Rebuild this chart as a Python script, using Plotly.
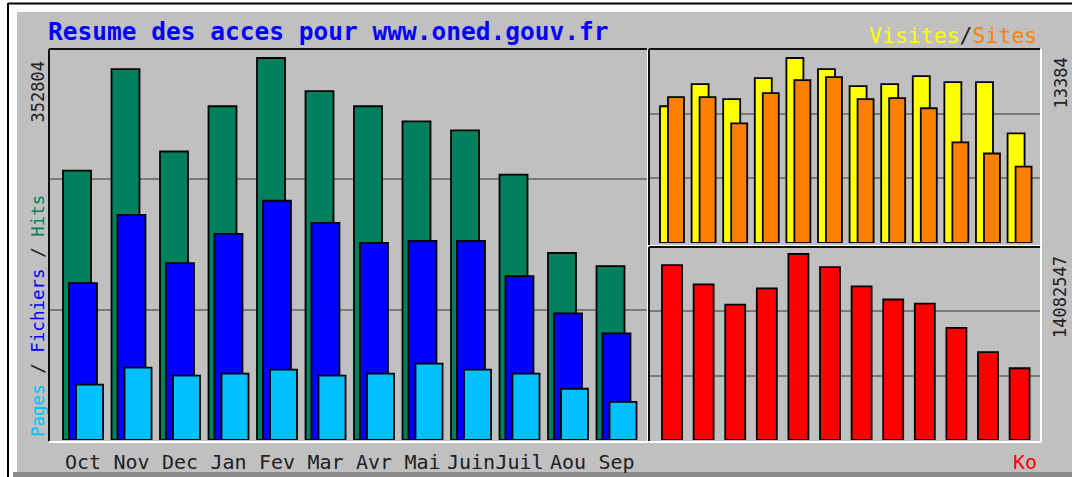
import plotly.graph_objects as go

W, H = 1072, 477

months = ["Oct", "Nov", "Dec", "Jan", "Fev", "Mar", "Avr", "Mai", "Juin", "Juil", "Aou", "Sep"]
hits = [248820, 342590, 266460, 308240, 352804, 322166, 308240, 294312, 285956, 245106, 172688, 160618]
files = [144835, 207968, 163404, 190328, 220966, 200541, 181972, 183829, 183829, 151334, 116982, 98414]
pages = [51064, 66847, 59420, 61276, 64990, 59420, 61276, 70561, 64990, 61276, 47350, 35280]
visits = [9893, 11493, 10402, 11929, 13384, 12584, 11347, 11493, 12075, 11638, 11638, 7929]
sites = [10547, 10547, 8656, 10838, 11784, 12002, 10402, 10474, 9747, 7274, 6474, 5528]
kbytes = [13240500, 11786400, 10255700, 11480300, 14082547, 13087500, 11633300, 10638400,
          10332200, 8495400, 6658500, 5434000]

title_text = "Resume des acces pour www.oned.gouv.fr"
hits_max_label = "352804"
visits_max_label = "13384"
kbytes_max_label = "14082547"

C_HITS, C_FILES, C_PAGES = "#00805C", "#0000FF", "#00C0FF"
C_VIS, C_SITES, C_KB = "#FFFF00", "#FF8000", "#FF0000"
GREY = "#C0C0C0"
MONO = "DejaVu Sans Mono"


def fx(px):
    return px / W


def fy(py):
    return 1 - py / H


fig = go.Figure()
line = dict(color="black", width=1.8)

# left panel: hits / files / pages
fig.add_trace(go.Bar(x=months, y=hits, marker=dict(color=C_HITS, line=line),
                     offset=-0.412, width=0.577, xaxis="x", yaxis="y"))
fig.add_trace(go.Bar(x=months, y=files, marker=dict(color=C_FILES, line=line),
                     offset=-0.289, width=0.577, xaxis="x", yaxis="y"))
fig.add_trace(go.Bar(x=months, y=pages, marker=dict(color=C_PAGES, line=line),
                     offset=-0.144, width=0.557, xaxis="x", yaxis="y"))
# right top: visits / sites
fig.add_trace(go.Bar(x=months, y=visits, marker=dict(color=C_VIS, line=line),
                     offset=-0.38, width=0.538, xaxis="x2", yaxis="y2"))
fig.add_trace(go.Bar(x=months, y=sites, marker=dict(color=C_SITES, line=line),
                     offset=-0.127, width=0.506, xaxis="x2", yaxis="y2"))
# right bottom: kbytes
fig.add_trace(go.Bar(x=months, y=kbytes, marker=dict(color=C_KB, line=line),
                     offset=-0.316, width=0.633, xaxis="x3", yaxis="y3"))

R1 = max(hits) * 391 / 382
R2 = max(visits) * 194 / 185
R3 = max(kbytes) * 193 / 186

grid = dict(showgrid=True, gridcolor="#7a7a7a", gridwidth=1.5, zeroline=False,
            showline=False, showticklabels=False, ticks="")

fig.update_layout(
    width=W, height=H, autosize=False,
    margin=dict(l=0, r=0, t=0, b=0),
    paper_bgcolor="white", plot_bgcolor="rgba(0,0,0,0)",
    barmode="overlay", showlegend=False,
    xaxis=dict(domain=[fx(49), fx(647)], anchor="y", type="category",
               range=[-0.701, 11.629], showgrid=False, zeroline=False, showline=False,
               ticks="outside", ticklen=4, tickcolor="rgba(0,0,0,0)", tickangle=0,
               tickfont=dict(family=MONO, size=20, color="#202020")),
    yaxis=dict(domain=[fy(440), fy(49)], anchor="x", range=[0, R1],
               tickvals=[R1 / 3, 2 * R1 / 3], **grid),
    xaxis2=dict(domain=[fx(649), fx(1040)], anchor="y2", type="category",
                range=[-0.728, 11.646], showgrid=False, zeroline=False,
                showline=False, showticklabels=False),
    yaxis2=dict(domain=[fy(243), fy(49)], anchor="x2", range=[0, R2],
                tickvals=[R2 / 3, 2 * R2 / 3], **grid),
    xaxis3=dict(domain=[fx(649), fx(1040)], anchor="y3", type="category",
                range=[-0.728, 11.646], showgrid=False, zeroline=False,
                showline=False, showticklabels=False),
    yaxis3=dict(domain=[fy(440), fy(247)], anchor="x3", range=[0, R3],
                tickvals=[R3 / 3, 2 * R3 / 3], **grid),
)

shapes = []


def rect(x0, y0, x1, y1, color):
    shapes.append(dict(type="rect", xref="paper", yref="paper", layer="below",
                       x0=fx(x0), x1=fx(x1), y0=fy(y0), y1=fy(y1),
                       fillcolor=color, line=dict(width=0)))


def hline(x0, x1, y, color, w=2, layer="above"):
    shapes.append(dict(type="line", xref="paper", yref="paper", layer=layer,
                       x0=fx(x0), x1=fx(x1), y0=fy(y), y1=fy(y),
                       line=dict(color=color, width=w)))


def vline(x, y0, y1, color, w=2, layer="above"):
    shapes.append(dict(type="line", xref="paper", yref="paper", layer=layer,
                       x0=fx(x), x1=fx(x), y0=fy(y0), y1=fy(y1),
                       line=dict(color=color, width=w)))


# frame
rect(17, 12, W, 472, GREY)
rect(13, 472, W, H, "#8A8A8A")
hline(8, W, 3.5, "black", 2)
vline(8, 3, H, "black", 2)

# panels
for (x0, y0, x1, y1) in [(49, 49, 647, 441), (649, 49, 1040, 245), (649, 247, 1040, 441)]:
    hline(x0, x1, y0, "#101010", 2)
    vline(x0, y0, y1, "#101010", 2)
    hline(x0, x1 + 1, y1 + 1, "white", 2)
    vline(x1 + 1, y0, y1 + 1, "white", 2)

fig.update_layout(shapes=shapes)

ann = []


def text(s, x, y, size, color, xanchor="left", yanchor="middle", angle=0):
    ann.append(dict(text=s, x=fx(x), y=fy(y),
                    xref="paper", yref="paper", showarrow=False, xanchor=xanchor,
                    yanchor=yanchor, textangle=angle,
                    font=dict(family=MONO, size=size, color=color)))


text("<b>" + title_text + "</b>", 46, 31, 24.5, C_FILES)

vis_legend = ('<span style="color:%s">Visites</span><span style="color:#202020">/</span>'
              '<span style="color:%s">Sites</span>') % (C_VIS, C_SITES)
text(vis_legend, 1039, 35, 21.5, "black", xanchor="right")

left_legend = ('<span style="color:%s">Pages</span><span style="color:#202020"> / </span>'
               '<span style="color:%s">Fichiers</span><span style="color:#202020"> / </span>'
               '<span style="color:%s">Hits</span>') % (C_PAGES, C_FILES, C_HITS)
text(left_legend, 38, 439, 17.5, "black", xanchor="center", yanchor="bottom", angle=-90)

text(hits_max_label, 38, 60, 17, "#202020", xanchor="center", yanchor="top", angle=-90)
text(visits_max_label, 1060, 56, 17, "#202020", xanchor="center", yanchor="top", angle=-90)
text(kbytes_max_label, 1060, 254, 17, "#202020", xanchor="center", yanchor="top", angle=-90)
text("Ko", 1039, 462, 20, C_KB, xanchor="right")

fig.update_layout(annotations=ann)

fig.write_html("out.html", config={"responsive": False, "displayModeBar": False},
               post_script="document.body.style.margin='0';document.body.style.overflow='hidden';")
